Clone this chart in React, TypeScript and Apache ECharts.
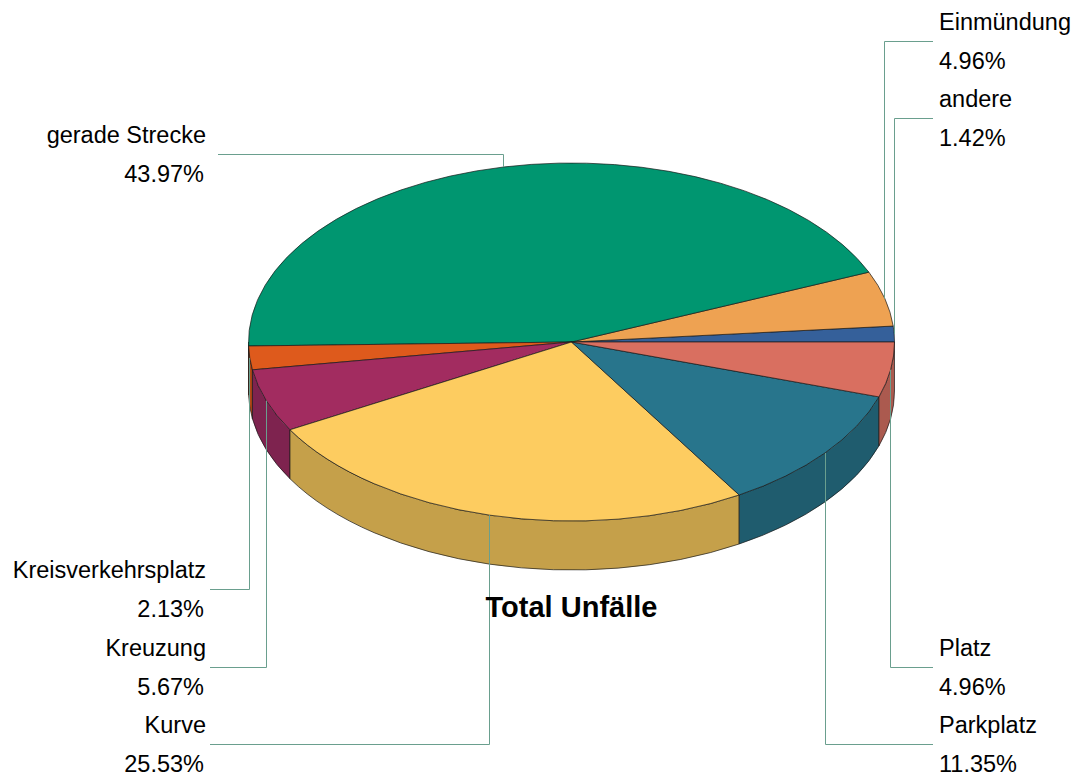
import React, { useEffect, useRef } from "react";
import * as echarts from "echarts";

const categories = ["andere", "Einmündung", "gerade Strecke", "Kreisverkehrsplatz", "Kreuzung", "Kurve", "Parkplatz", "Platz"];
const shares = [1.42, 4.96, 43.97, 2.13, 5.67, 25.53, 11.35, 4.96];
const topColors = ["#35609a", "#eea252", "#009670", "#de5a1c", "#a22c60", "#fdcc60", "#28758c", "#d96f60"];
const sideColors = ["#2a4d7b", "#be8242", "#00785a", "#b24816", "#7e234f", "#c5a04a", "#1f5c6e", "#ab5a4f"];
const titleText = "Total Unfälle";

// label layout: y of the leader's horizontal run; x of its outer end
const leaderY = [118.5, 41.5, 154.5, 589.5, 667.5, 744.5, 744.5, 667.5];
const leaderEndX = [933, 933, 218, 210, 210, 210, 933, 933];

const CX = 571.5, CY = 342, RX = 323, RY = 179, DEPTH = 49;
const FONT = '"Liberation Sans", Arial, sans-serif';
const LABEL_FONT = `23.5px ${FONT}`;

const total = shares.reduce((a, b) => a + b, 0);
const startAngle = (i: number) => (shares.slice(0, i).reduce((a, b) => a + b, 0) / total) * 2 * Math.PI;
const px = (a: number) => CX + RX * Math.cos(a);
const py = (a: number) => CY - RY * Math.sin(a);
const arcTo = (a0: number, a1: number, dy: number) => {
  const large = Math.abs(a1 - a0) > Math.PI ? 1 : 0;
  const sweep = a1 > a0 ? 0 : 1;
  return `A${RX} ${RY} 0 ${large} ${sweep} ${px(a1)} ${py(a1) + dy}`;
};

const seriesData = shares.map((v, i) => [i, v]);

function renderSide(_: any, api: any) {
  const i = api.value(0);
  const a0 = Math.max(startAngle(i), Math.PI);
  const a1 = startAngle(i) + (api.value(1) / total) * 2 * Math.PI;
  if (a1 <= Math.PI) return { type: "group", children: [] };
  const d = `M${px(a0)} ${py(a0)}${arcTo(a0, a1, 0)}L${px(a1)} ${py(a1) + DEPTH}${arcTo(a1, a0, DEPTH)}Z`;
  return {
    type: "path",
    shape: { pathData: d },
    style: { fill: sideColors[i], stroke: "#1a1a1a", lineWidth: 0.7 },
  };
}

function renderTop(_: any, api: any) {
  const i = api.value(0);
  const a0 = startAngle(i);
  const a1 = a0 + (api.value(1) / total) * 2 * Math.PI;
  const d = `M${CX} ${CY}L${px(a0)} ${py(a0)}${arcTo(a0, a1, 0)}Z`;
  return {
    type: "path",
    shape: { pathData: d },
    style: { fill: topColors[i], stroke: "#1a1a1a", lineWidth: 0.7 },
  };
}

function renderLeader(_: any, api: any) {
  const i = api.value(0);
  const mid = startAngle(i) + ((api.value(1) / total) * 2 * Math.PI) / 2;
  const ax = Math.floor(px(mid)) + 0.5;
  const ay = py(mid);
  const y = leaderY[i];
  const endX = leaderEndX[i];
  const right = endX > CX;
  const textX = right ? 939 : 206;
  const align = right ? "left" : "right";
  return {
    type: "group",
    children: [
      {
        type: "polyline",
        shape: { points: [[ax, ay], [ax, y], [endX, y]] },
        style: { fill: "none", stroke: "#6a9f8e", lineWidth: 1 },
      },
      {
        type: "text",
        style: { x: textX, y: y - 19.5, text: categories[i], font: LABEL_FONT, fill: "#000", align, verticalAlign: "middle" },
      },
      {
        type: "text",
        style: { x: right ? textX : textX - 2, y: y + 19.5, text: `${api.value(1).toFixed(2)}%`, font: LABEL_FONT, fill: "#000", align, verticalAlign: "middle" },
      },
    ],
  };
}

export default function App() {
  const ref = useRef<HTMLDivElement>(null);
  useEffect(() => {
    document.body.style.margin = "0";
    const chart = echarts.init(ref.current!, null, { renderer: "svg" });
    const base = { type: "custom", coordinateSystem: "none", data: seriesData, silent: true, animation: false, clip: false };
    chart.setOption({
      animation: false,
      backgroundColor: "#ffffff",
      title: {
        text: titleText,
        left: CX,
        top: 592,
        textAlign: "center",
        padding: 0,
        textStyle: { fontFamily: FONT, fontSize: 29, fontWeight: "bold", color: "#000" },
      },
      series: [
        { ...base, name: "side", renderItem: renderSide, z: 1 },
        { ...base, name: "top", renderItem: renderTop, z: 2 },
        { ...base, name: "leader", renderItem: renderLeader, z: 3 },
      ],
    });
    return () => chart.dispose();
  }, []);
  return <div ref={ref} style={{ width: 1076, height: 777 }} />;
}
